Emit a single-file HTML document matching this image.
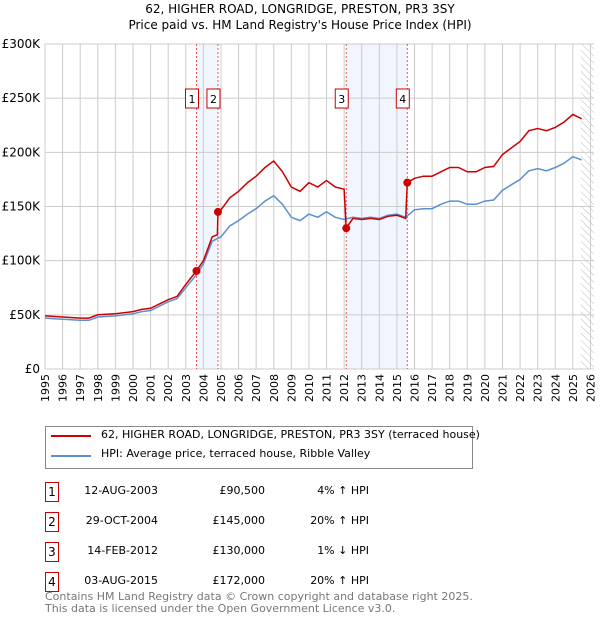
<!DOCTYPE html>
<html><head><meta charset="utf-8">
<style>
body{margin:0;background:#fff;font-family:"DejaVu Sans","Liberation Sans",sans-serif;}
#wrap{position:relative;width:600px;height:620px;overflow:hidden}
.t{position:absolute;font-size:12px;color:#000;white-space:nowrap}
.box{position:absolute;width:12px;height:18px;border:1px solid #c00;font-size:12px;text-align:center;line-height:18px}
</style></head><body><div id="wrap">
<div class="t" style="left:0;width:600px;text-align:center;top:2px">62, HIGHER ROAD, LONGRIDGE, PRESTON, PR3 3SY</div>
<div class="t" style="left:0;width:600px;text-align:center;top:18px">Price paid vs. HM Land Registry's House Price Index (HPI)</div>
<svg id="svg" width="600" height="420" style="position:absolute;left:0;top:0"></svg>
<div style="position:absolute;left:45px;top:426px;width:426px;height:41px;border:1px solid #888"></div>
<div style="position:absolute;left:51px;top:435px;width:40px;height:2px;background:#c00"></div>
<div class="t" style="left:101px;top:428px;font-size:11px">62, HIGHER ROAD, LONGRIDGE, PRESTON, PR3 3SY (terraced house)</div>
<div style="position:absolute;left:51px;top:455px;width:40px;height:2px;background:#5b8fd0"></div>
<div class="t" style="left:101px;top:447px;font-size:11px">HPI: Average price, terraced house, Ribble Valley</div>
<div id="tbl"></div>
<div class="t" style="left:45px;top:591px;color:#777;font-size:11px;line-height:12px">Contains HM Land Registry data © Crown copyright and database right 2025.<br>This data is licensed under the Open Government Licence v3.0.</div>
</div>
<script>
const hpiYears=[1995,1996,1997,1997.5,1998,1999,2000,2000.5,2001,2002,2002.5,2003,2003.6,2004,2004.5,2005,2005.5,2006,2006.5,2007,2007.5,2008,2008.5,2009,2009.5,2010,2010.5,2011,2011.5,2012,2012.5,2013,2013.5,2014,2014.5,2015,2015.5,2016,2016.5,2017,2017.5,2018,2018.5,2019,2019.5,2020,2020.5,2021,2021.5,2022,2022.5,2023,2023.5,2024,2024.5,2025,2025.5];
const hpiValues=[47,46,45,45,48,49,51,53,54,62,65,75,87,97,118,122,132,137,143,148,155,160,152,140,137,143,140,145,140,138,140,139,140,139,142,143,140,147,148,148,152,155,155,152,152,155,156,165,170,175,183,185,183,186,190,196,193];
const redYears=[1995,1996,1997,1997.5,1998,1999,2000,2000.5,2001,2002,2002.5,2003,2003.6,2004,2004.5,2004.8,2004.83,2005,2005.5,2006,2006.5,2007,2007.5,2008,2008.5,2009,2009.5,2010,2010.5,2011,2011.5,2012,2012.12,2012.5,2013,2013.5,2014,2014.5,2015,2015.5,2015.59,2016,2016.5,2017,2017.5,2018,2018.5,2019,2019.5,2020,2020.5,2021,2021.5,2022,2022.5,2023,2023.5,2024,2024.5,2025,2025.5];
const redValues=[49,48,47,47,50,51,53,55,56,64,67,78,90.5,100,122,124,145,147,158,164,172,178,186,192,182,168,164,172,168,174,168,166,130,139,138,139,138,141,142,139,172,176,178,178,182,186,186,182,182,186,187,198,204,210,220,222,220,223,228,235,231];
const saleLabels=["1","2","3","4"];
const saleYears=[2003.61,2004.83,2012.12,2015.59];
const saleValues=[90.5,145,130,172];
const saleDates=["12-AUG-2003","29-OCT-2004","14-FEB-2012","03-AUG-2015"];
const salePrices=["£90,500","£145,000","£130,000","£172,000"];
const saleHpi=["4% ↑ HPI","20% ↑ HPI","1% ↓ HPI","20% ↑ HPI"];
const yTicks=[0,50,100,150,200,250,300];
const yTickLabels=["£0","£50K","£100K","£150K","£200K","£250K","£300K"];
const xTicks=[1995,1996,1997,1998,1999,2000,2001,2002,2003,2004,2005,2006,2007,2008,2009,2010,2011,2012,2013,2014,2015,2016,2017,2018,2019,2020,2021,2022,2023,2024,2025,2026];

const X0=45,X1=594,Y0=369,Y1=44;
const xs=y=>X0+(y-1995)/(2026.2-1995)*(X1-X0);
const ys=v=>Y0-v/300*(Y0-Y1);
const svg=document.getElementById('svg');
const NS='http://www.w3.org/2000/svg';
function mk(tag,attrs){const e=document.createElementNS(NS,tag);for(const k in attrs)e.setAttribute(k,attrs[k]);svg.appendChild(e);return e;}
for(let i=0;i<4;i+=2){
 const r=mk('rect',{x:xs(saleYears[i]),y:Y1,width:xs(saleYears[i+1])-xs(saleYears[i]),height:Y0-Y1,fill:'#f1f5fd'});
 
 
}
const defs=mk('defs',{});
defs.innerHTML='<pattern id="h" width="5" height="5" patternUnits="userSpaceOnUse" patternTransform="rotate(-45)"><line x1="0" y1="0" x2="0" y2="5" stroke="#bbb" stroke-width="1"/></pattern>';
const hz=mk('rect',{x:xs(2025.45),y:Y1,width:X1-xs(2025.45),height:Y0-Y1,fill:'url(#h)'});


xTicks.forEach((t,i)=>{
 const l=mk('line',{x1:xs(t),x2:xs(t),y1:Y1,y2:Y0,stroke:'#ccc','stroke-width':1});
 
 
 const tx=mk('text',{x:0,y:0,transform:`translate(${xs(t)+4},${Y0+5}) rotate(-90)`,'text-anchor':'end','font-size':11,'font-family':'DejaVu Sans, sans-serif'});
 tx.textContent=t;
 
 
});
yTicks.forEach((t,i)=>{
 const l=mk('line',{x1:X0,x2:X1,y1:ys(t),y2:ys(t),stroke:'#ccc','stroke-width':1});
 
 
 const tx=mk('text',{x:X0-5,y:ys(t)+4,'text-anchor':'end','font-size':12,'font-family':'DejaVu Sans, sans-serif'});
 tx.textContent=yTickLabels[i];
 
 
});
saleYears.forEach((s,i)=>{
 const l=mk('line',{x1:xs(s),x2:xs(s),y1:Y1,y2:Y0,stroke:'#e55','stroke-width':1,'stroke-dasharray':'2,2'});
 
 
});
function path(xa,va,col,name){
 const d=xa.map((x,i)=>(i?'L':'M')+xs(x).toFixed(1)+','+ys(va[i]).toFixed(1)).join('');
 const p=mk('path',{d:d,fill:'none',stroke:col,'stroke-width':1.5});
 
 
}
path(hpiYears,hpiValues,'#5b8fd0','hpi-line');
path(redYears,redValues,'#cc0000','price-paid-line');
saleYears.forEach((s,i)=>{
 const c=mk('circle',{cx:xs(s),cy:ys(saleValues[i]),r:4,fill:'#cc0000'});
 
 
 const b=mk('rect',{x:xs(s)-11,y:89,width:13,height:19,fill:'#fff',stroke:'#c00'});
 
 
 const t=mk('text',{x:xs(s)-4.5,y:103,'text-anchor':'middle','font-size':11,'font-family':'DejaVu Sans, sans-serif'});
 t.textContent=saleLabels[i];
 
 
});
const tbl=document.getElementById('tbl');
saleLabels.forEach((l,i)=>{
 const top=482+i*30;
 const row=document.createElement('div');
 
 
 row.innerHTML=`<div class="box" style="left:45px;top:${top}px">${l}</div>
 <div class="t" style="left:60px;width:98px;text-align:right;top:${top+2}px;font-size:11px">${saleDates[i]}</div>
 <div class="t" style="left:180px;width:85px;text-align:right;top:${top+2}px;font-size:11px">${salePrices[i]}</div>
 <div class="t" style="left:280px;width:89px;text-align:right;top:${top+2}px;font-size:11px">${saleHpi[i]}</div>`;
 tbl.appendChild(row);
});
</script>
</body></html>
